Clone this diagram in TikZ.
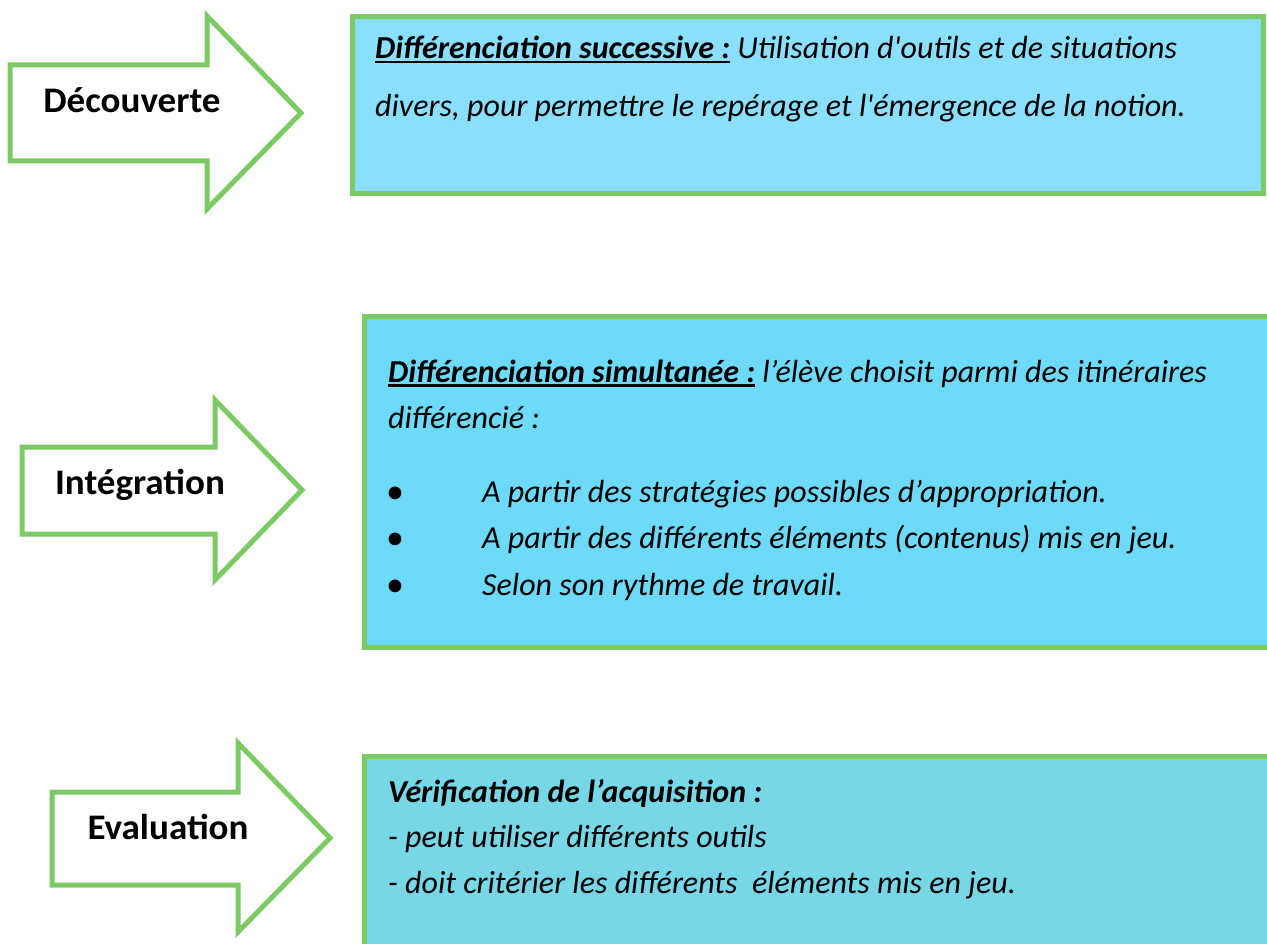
\documentclass[tikz,border=0pt]{standalone}
\usepackage{fontspec}
\setmainfont{Carlito}[Ligatures=TeXOff]
\newfontfamily\fontL{Carlito}[Ligatures=TeXOff,FakeStretch=1.03]
\newsavebox\myulbox
\newcommand\myul[1]{\sbox\myulbox{#1}\rlap{\rule[-4.5pt]{\wd\myulbox}{2.2pt}}\usebox\myulbox}
\definecolor{grn}{RGB}{124,202,100}
\definecolor{fillA}{RGB}{138,223,252}
\definecolor{fillB}{RGB}{108,218,248}
\definecolor{fillC}{RGB}{119,215,231}
\tikzset{
  arrowshape/.style={draw=grn,fill=white,line width=5pt,line join=miter},
  boxshape/.style={draw=grn,line width=5pt,line join=miter},
  label/.style={inner sep=0pt,anchor=base,font=\fontL\bfseries\fontsize{36}{40}\selectfont},
  txtA/.style={inner sep=0pt,anchor=base west,font=\itshape\fontsize{32}{38}\selectfont},
  txtB/.style={inner sep=0pt,anchor=base west,font=\itshape\fontsize{32}{38}\selectfont},
  txtC/.style={inner sep=0pt,anchor=base west,font=\itshape\fontsize{32}{38}\selectfont},
  bul/.style={inner sep=0pt,anchor=base,font=\upshape\fontsize{36}{40}\selectfont}
}
\begin{document}
\begin{tikzpicture}[x=1pt,y=-1pt]
\useasboundingbox (0,0) rectangle (1267,944);
\clip (0,0) rectangle (1267,944);
% boxes
\draw[boxshape,fill=fillA] (352,17) rectangle (1263,194);
\draw[boxshape,fill=fillB] (364,316) rectangle (1300,647);
\draw[boxshape,fill=fillC] (364,756) rectangle (1300,1000);
% arrows
\draw[arrowshape] (10,65) -- (207,65) -- (207,16) -- (301,113) -- (207,209) -- (207,161) -- (10,161) -- cycle;
\draw[arrowshape] (22,447) -- (215,447) -- (215,400) -- (302,490) -- (215,580) -- (215,534) -- (22,534) -- cycle;
\draw[arrowshape] (52,792) -- (238,792) -- (238,743) -- (330,838) -- (238,932) -- (238,885) -- (52,885) -- cycle;
% labels
\node[label] (l1) at (132,113) {Découverte};
\node[label] (l2) at (140,494) {Intégration};
\node[label] (l3) at (168,839) {Evaluation};
% box 1 text
\node[txtA] (a1) at (375,59) {{\bfseries\myul{Différenciation successive :}} Utilisation d'outils et de situations};
\node[txtA] (a2) at (375,117) {divers, pour permettre le repérage et l'émergence de la notion.};
% box 2 text
\node[txtB] (b1) at (388,382) {{\bfseries\myul{Différenciation simultanée :}} l’élève choisit parmi des itinéraires};
\node[txtB] (b2) at (388,428) {différencié :};
\node[bul] (p1) at (395,503) {•};
\node[bul] (p2) at (395,549) {•};
\node[bul] (p3) at (395,596) {•};
\node[txtB] (c1) at (482,502) {A partir des stratégies possibles d’appropriation.};
\node[txtB] (c2) at (482,548) {A partir des différents éléments (contenus) mis en jeu.};
\node[txtB] (c3) at (482,595) {Selon son rythme de travail.};
% box 3 text
\node[txtC] (d1) at (388,802) {\bfseries Vérification de l’acquisition :};
\node[txtC] (d2) at (388,847) {- peut utiliser différents outils};
\node[txtC] (d3) at (388,893) {- doit critérier les différents \ éléments mis en jeu.};
\end{tikzpicture}
\end{document}
